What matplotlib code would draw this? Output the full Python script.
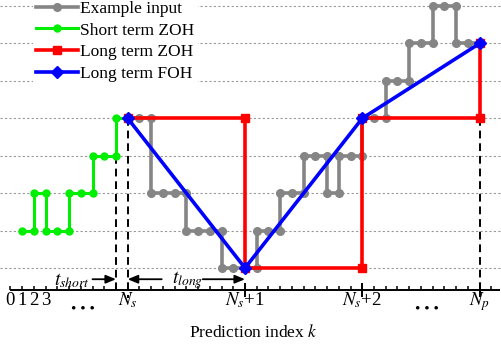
import numpy as np
import matplotlib
matplotlib.use("Agg")
import matplotlib.pyplot as plt

plt.rcParams["font.family"] = ["Liberation Serif", "DejaVu Serif"]
plt.rcParams["mathtext.fontset"] = "stix"

# ---- data -------------------------------------------------------------
N_S = 10
N_P = 40
short_k = list(range(1, 11))
short_u = [1, 2, 1, 1, 2, 2, 3, 3, 4, 4]

input_k = list(range(10, 41))
input_u = [4, 4, 2, 2, 2, 1, 1, 1, 0, 0, 0, 1, 1, 2, 2, 3, 3, 2, 3, 3,
           4, 4, 5, 5, 6, 6, 7, 7, 6, 6, 6]

long_k = [10, 20, 30, 40]
long_u = [4, 0, 4, 6]

levels = list(range(8))

tick_labels = {0: "0", 1: "1", 2: "2", 3: "3",
               10: r"$N_s$", 20: r"$N_s$+1", 30: r"$N_s$+2", 40: r"$N_p$"}


def step_vertices(k, u):
    xs, ys = [k[0]], [u[0]]
    for i in range(1, len(k)):
        if u[i] != u[i - 1]:
            xs.append(k[i]); ys.append(u[i - 1])
        xs.append(k[i]); ys.append(u[i])
    return xs, ys


# pixel geometry of the reference: k=0 at x=10.4px, 11.73px per step;
# level 0 at y=268px (from top), 37.43px per level
W, H = 501, 346
fig = plt.figure(figsize=(W / 100, H / 100), dpi=100)
ax = fig.add_axes([0, 0, 1, 1])
ax.set_xlim(-10.4 / 11.73, (W - 10.4) / 11.73)
ax.set_ylim(-78 / 37.43, (H - 78) / 37.43)
ax.axis("off")

# dotted guide lines
for lv in levels:
    ax.axhline(lv, color="#999999", lw=0.8, ls=(0, (2, 2)), zorder=0)

# dashed markers
ax.plot([9, 9], [3, -0.66], color="k", lw=1.4, ls=(0, (4, 2.5)), zorder=1)
ax.plot([N_S, N_S], [4, -0.8], color="k", lw=1.4, ls=(0, (4, 2.5)), zorder=1)
ax.plot([N_P, N_P], [4, -0.6], color="k", lw=1.4, ls=(0, (4, 2.5)), zorder=1)

# signals
gx, gy = step_vertices(input_k, input_u)
ax.plot(gx, gy, color="#858585", lw=2.6, marker="o", ms=5.5, zorder=2,
        label="Example input")
sx, sy = step_vertices(short_k, short_u)
ax.plot(sx, sy, color="#00ee00", lw=2.2, marker="o", ms=5, zorder=3,
        label="Short term ZOH")
rx, ry = step_vertices(long_k, long_u)
ax.plot(rx, ry, color="#ff0000", lw=2.6, marker="s", ms=5.5, zorder=4,
        label="Long term ZOH")
ax.plot(long_k, long_u, color="#0000ff", lw=2.6, marker="D", ms=6, zorder=5,
        label="Long term FOH")

# horizontal axis
y_ax = -0.588
ax.plot([0, 41.7], [y_ax, y_ax], color="k", lw=1.4, zorder=6, solid_capstyle="butt")
ax.vlines(range(0, 42), y_ax, y_ax + 0.1, color="k", lw=1.1, zorder=6)
ax.vlines([20, 30, 40], y_ax - 0.18, y_ax + 0.18, color="k", lw=1.4, zorder=6)
for k, lab in tick_labels.items():
    ax.text(k, -0.99, lab, ha="center", va="baseline", fontsize=13.5)
ax.text(6.15, -1.12, "• • •", ha="center", va="center", fontsize=11)
ax.text(35.5, -1.12, "• • •", ha="center", va="center", fontsize=11)
ax.text(20.7, -1.84, r"Prediction index $k$", ha="center", va="baseline", fontsize=12.5)

# interval arrows
y_arr = -0.3
arr = dict(arrowstyle="-|>,head_length=0.6,head_width=0.25", color="k", lw=1.3,
           shrinkA=0, shrinkB=0)
ax.annotate("", xy=(9, y_arr), xytext=(7.0, y_arr), arrowprops=arr)
ax.annotate("", xy=(N_S, y_arr), xytext=(12.9, y_arr), arrowprops=arr)
ax.annotate("", xy=(20, y_arr), xytext=(16.4, y_arr), arrowprops=arr)
ax.text(6.8, -0.33, r"$t_{short}$", ha="right", va="center", fontsize=14)
ax.text(15.1, -0.33, r"$t_{long}$", ha="center", va="center", fontsize=14)

leg = ax.legend(loc="upper left", bbox_to_anchor=(33 / W, 1 - (-3) / H),
                fontsize=12.5, handlelength=2.4, handletextpad=0.1,
                labelspacing=0.33, borderpad=0.2, borderaxespad=0,
                frameon=True, fancybox=False)
leg.get_frame().set_facecolor("white")
leg.get_frame().set_edgecolor("none")
leg.get_frame().set_alpha(1)
leg.set_zorder(10)

fig.savefig("out.png", dpi=100)
